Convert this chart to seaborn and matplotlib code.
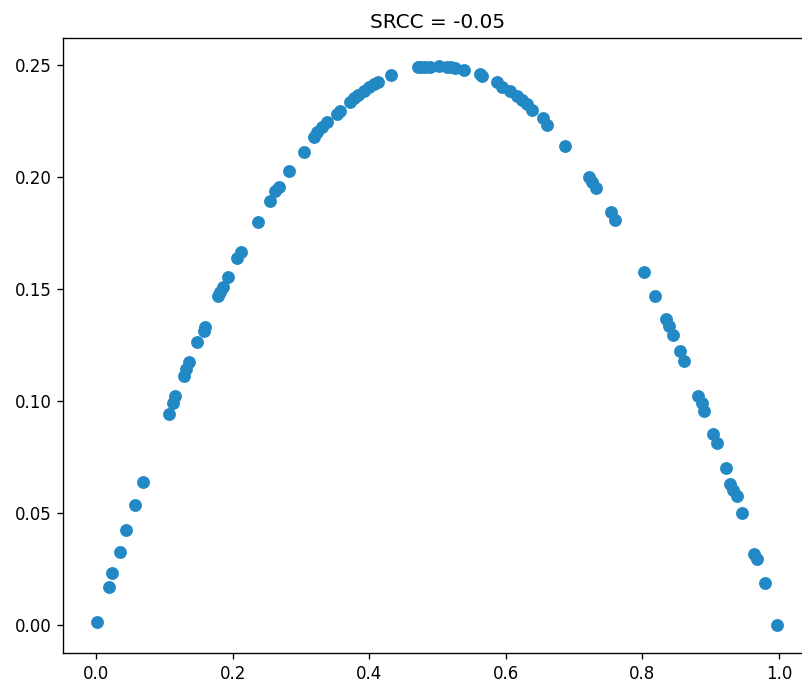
import matplotlib
matplotlib.use("Agg")
import matplotlib.pyplot as plt
import seaborn as sns
import numpy as np

x_vals = [
    0.0015, 0.0184, 0.0234, 0.0346, 0.0439, 0.0571, 0.0682, 0.1063, 0.1122, 0.1161,
    0.1283, 0.1322, 0.1356, 0.1479, 0.1575, 0.1593, 0.1786, 0.1810, 0.1854, 0.1927,
    0.2064, 0.2123, 0.2366, 0.2542, 0.2625, 0.2674, 0.2820, 0.3040, 0.3186, 0.3236,
    0.3309, 0.3382, 0.3529, 0.3577, 0.3723, 0.3772, 0.3830, 0.3918, 0.3991, 0.4064,
    0.4123, 0.4319, 0.4709, 0.4763, 0.4821, 0.4895, 0.5016, 0.5139, 0.5202, 0.5260,
    0.5382, 0.5627, 0.5652, 0.5871, 0.5944, 0.6066, 0.6164, 0.6237, 0.6310, 0.6384,
    0.6545, 0.6612, 0.6861, 0.7223, 0.7267, 0.7321, 0.7540, 0.7603, 0.8018, 0.8184,
    0.8346, 0.8384, 0.8457, 0.8555, 0.8618, 0.8823, 0.8873, 0.8911, 0.9034, 0.9101,
    0.9229, 0.9287, 0.9327, 0.9385, 0.9463, 0.9643, 0.9678, 0.9800, 0.9980,
]
y_vals = [
    0.0015, 0.0171, 0.0233, 0.0329, 0.0424, 0.0535, 0.0639, 0.0941, 0.0991, 0.1021,
    0.1111, 0.1144, 0.1174, 0.1262, 0.1315, 0.1333, 0.1471, 0.1486, 0.1508, 0.1553,
    0.1639, 0.1667, 0.1798, 0.1895, 0.1936, 0.1957, 0.2029, 0.2110, 0.2177, 0.2199,
    0.2225, 0.2247, 0.2281, 0.2296, 0.2333, 0.2353, 0.2367, 0.2385, 0.2400, 0.2415,
    0.2422, 0.2455, 0.2489, 0.2489, 0.2490, 0.2492, 0.2497, 0.2492, 0.2490, 0.2486,
    0.2477, 0.2460, 0.2452, 0.2422, 0.2403, 0.2382, 0.2363, 0.2344, 0.2326, 0.2299,
    0.2263, 0.2234, 0.2139, 0.1999, 0.1979, 0.1951, 0.1844, 0.1809, 0.1577, 0.1470,
    0.1367, 0.1337, 0.1297, 0.1226, 0.1181, 0.1025, 0.0991, 0.0958, 0.0852, 0.0813,
    0.0703, 0.0629, 0.0605, 0.0576, 0.0501, 0.0317, 0.0297, 0.0189, 0.0000,
]
title_text = "SRCC = -0.05"

DPI = 120
fig = plt.figure(figsize=(802 / DPI, 684 / DPI), dpi=DPI)
ax = fig.add_axes([63 / 802, 0.0449, 0.9333, 0.9000])

color = "#2289c4"
sns.scatterplot(x=np.array(x_vals), y=np.array(y_vals), ax=ax, s=45,
                color=color, edgecolor=color, linewidth=1.0, legend=False)
ax.set_xlabel("")
ax.set_ylabel("")
ax.set_title(title_text, fontsize=12)
ax.set_xticks([0.0, 0.2, 0.4, 0.6, 0.8, 1.0])
ax.set_yticks([0.00, 0.05, 0.10, 0.15, 0.20, 0.25])
ax.margins(0.05)

fig.savefig("out.png", dpi=DPI)
